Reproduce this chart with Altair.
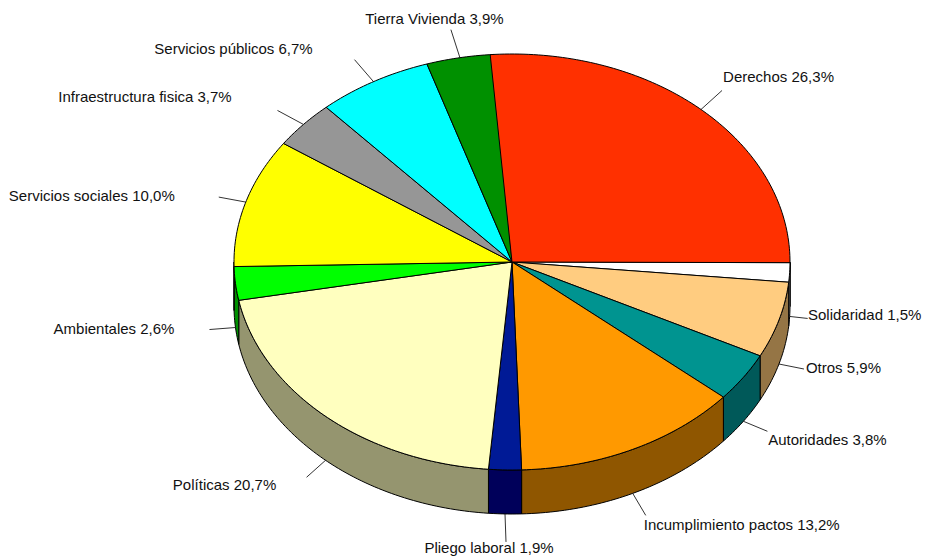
import math
import altair as alt
import pandas as pd

categories = ["Derechos", "Solidaridad", "Otros", "Autoridades", "Incumplimiento pactos",
              "Pliego laboral", "Políticas", "Ambientales", "Servicios sociales",
              "Infraestructura fisica", "Servicios públicos", "Tierra Vivienda"]
values = [26.3, 1.5, 5.9, 3.8, 13.2, 1.9, 20.7, 2.6, 10.0, 3.7, 6.7, 3.9]
top_colors = ["#FF3000", "#FFFFFF", "#FFCC80", "#009490", "#FF9900", "#001A96",
              "#FFFFBF", "#00FF00", "#FFFF00", "#969696", "#00FFFF", "#009000"]
wall_colors = ["#953000", "#959595", "#957545", "#005959", "#8F5600", "#00005A",
               "#95956F", "#009000", "#959500", "#595959", "#009595", "#005500"]

# layout (page pixels)
CX, CY, RX, RY, DEPTH = 512.0, 262.0, 278.0, 208.0, 44.0
START = -4.5
leader_vec = [(21, -19), (18, 2), (25, 5), (24, 10), (13, 22), (1, 28),
              (-19, 17), (-26, 2), (-27, -5), (-26, -14), (-19, -22), (-9, -28)]
label_vec = [(56.5, -13), (57, -3), (39.5, -1), (60, 9), (96, 10), (-17, 6),
             (-82, 8), (-95.5, -1), (-127, -1), (-132.5, -13), (-121, -11), (-16.5, -11)]


def pt(a, shift=0.0):
    r = math.radians(a)
    return CX + RX * math.sin(r), CY - RY * math.cos(r) + shift


tops, walls, rules, labels = [], [], [], []
a = START
for i, (c, v) in enumerate(zip(categories, values)):
    b = a + v * 3.6
    n = max(2, int((b - a) / 1.0) + 1)
    arc = [a + (b - a) * k / n for k in range(n + 1)]
    poly = [(CX, CY)] + [pt(t) for t in arc]
    for k, (x, y) in enumerate(poly):
        tops.append(dict(slice=c, x=x, y=y, k=k, fill=top_colors[i]))
    lo, hi = max(a, 90.0), min(b, 270.0)
    if lo < hi:
        m = max(2, int((hi - lo) / 1.0) + 1)
        warc = [lo + (hi - lo) * k / m for k in range(m + 1)]
        wpoly = [pt(t) for t in warc] + [pt(t, DEPTH) for t in reversed(warc)]
        for k, (x, y) in enumerate(wpoly):
            walls.append(dict(slice=c, x=x, y=y, k=k, fill=wall_colors[i]))
    mid = (a + b) / 2
    x0, y0 = pt(mid, DEPTH if 90 < mid < 270 else 0.0)
    x1, y1 = x0 + leader_vec[i][0], y0 + leader_vec[i][1]
    rules.append(dict(x=x0, y=y0, x2=x1, y2=y1))
    pct = f"{v:.1f}".replace(".", ",")
    labels.append(dict(x=x1 + label_vec[i][0], y=y1 + label_vec[i][1], text=f"{c} {pct}%"))
    a = b

# the last slice ends a hair past the first one's start: draw Derechos last
tops_df = pd.DataFrame(tops)
tops_df = pd.concat([tops_df[tops_df.slice != categories[0]], tops_df[tops_df.slice == categories[0]]])

xs = alt.Scale(domain=[8, 923], range=[0, 915], nice=False, zero=False)
ys = alt.Scale(domain=[8, 560], range=[0, 552], nice=False, zero=False)
X = alt.X("x:Q", scale=xs, axis=None)
Y = alt.Y("y:Q", scale=ys, axis=None)


def surface(df):
    return alt.Chart(df).mark_line(filled=True, interpolate="linear-closed", stroke="black",
                                   strokeWidth=1, strokeJoin="round", fillOpacity=1).encode(
        x=X, y=Y, order=alt.Order("k:Q"), detail="slice:N",
        fill=alt.Fill("fill:N", scale=None, legend=None))


leaders = alt.Chart(pd.DataFrame(rules)).mark_rule(color="#333333", strokeWidth=1).encode(
    x=X, y=Y, x2="x2:Q", y2="y2:Q")
texts = alt.Chart(pd.DataFrame(labels)).mark_text(
    font="Liberation Sans", fontSize=15, color="#111111", align="center", baseline="middle").encode(
    x=X, y=Y, text="text:N")

chart = alt.layer(leaders, surface(pd.DataFrame(walls)), surface(tops_df), texts).properties(
    width=915, height=552, padding=0, background="white", autosize=alt.AutoSizeParams(type="none")
).configure_view(stroke=None)

chart.save("out.html", embed_options={"renderer": "svg", "actions": False})
